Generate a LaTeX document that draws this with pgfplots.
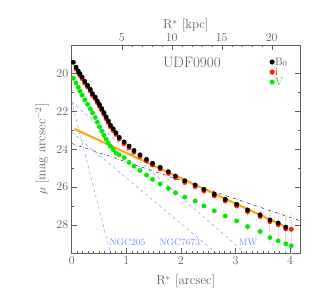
\documentclass[border=0pt]{standalone}
\usepackage{pgfplots}
\pgfplotsset{compat=1.18}
\definecolor{tcol}{RGB}{95,95,95}
\definecolor{porange}{RGB}{255,165,0}
\definecolor{pblue}{RGB}{110,140,240}
\definecolor{pgreen}{RGB}{0,235,0}
\definecolor{pred}{RGB}{255,30,0}
\pgfplotstableread{
x y
0.03 19.41
0.08 19.67
0.12 19.88
0.15 20.02
0.19 20.19
0.24 20.42
0.29 20.63
0.34 20.84
0.38 21.07
0.43 21.25
0.47 21.46
0.51 21.65
0.55 21.86
0.59 22.07
0.63 22.30
0.67 22.51
0.71 22.74
0.76 22.93
0.81 23.14
0.87 23.38
0.96 23.62
1.05 23.84
1.14 24.07
1.25 24.30
1.37 24.54
1.48 24.75
1.62 24.96
1.77 25.19
1.90 25.42
2.07 25.67
2.26 25.89
2.42 26.12
2.61 26.38
2.81 26.65
3.02 26.91
3.22 27.21
3.45 27.47
3.63 27.74
3.78 27.90
3.92 28.12
}\Bdata
\pgfplotstableread{
x y e
0.08 19.76 0
0.12 19.97 0
0.15 20.11 0
0.19 20.28 0
0.24 20.51 0
0.29 20.72 0
0.34 20.93 0
0.38 21.16 0
0.43 21.34 0
0.47 21.55 0
0.51 21.74 0
0.55 21.95 0
0.59 22.16 0
0.63 22.39 0
0.67 22.60 0
0.71 22.83 0
0.76 23.02 0
0.81 23.23 0
0.87 23.47 0
0.96 23.71 0
1.05 23.93 0
1.14 24.16 0
1.25 24.39 0
1.37 24.63 0
1.48 24.84 0
1.62 25.05 0
1.77 25.28 0
1.90 25.51 0
2.07 25.76 0
2.26 25.98 0
2.42 26.21 0
2.61 26.47 0.08
2.81 26.74 0.12
3.02 27.00 0.2
3.22 27.30 0.25
3.45 27.56 0.32
3.63 27.83 0.55
3.78 27.99 0.65
3.92 28.21 0.68
4.02 28.23 0.85
}\Idata
\pgfplotstableread{
x y e
0.03 20.25 0
0.08 20.50 0
0.12 20.73 0
0.15 20.93 0
0.19 21.15 0
0.24 21.40 0
0.29 21.63 0
0.34 21.87 0
0.38 22.08 0
0.43 22.33 0
0.47 22.58 0
0.51 22.82 0
0.55 23.05 0
0.59 23.27 0
0.63 23.47 0
0.67 23.67 0
0.71 23.85 0
0.76 24.03 0
0.81 24.20 0
0.87 24.30 0
0.96 24.45 0
1.05 24.70 0
1.14 24.90 0
1.25 25.12 0
1.37 25.37 0
1.48 25.60 0
1.62 25.84 0
1.77 26.07 0
1.90 26.30 0
2.07 26.53 0
2.26 26.74 0
2.42 27.00 0
2.61 27.26 0.05
2.81 27.53 0.08
3.02 27.79 0.12
3.22 28.09 0.18
3.45 28.35 0.22
3.63 28.67 0.35
3.78 28.84 0.44
3.92 29.00 0.45
4.02 29.10 0.5
}\Vdata
\begin{document}
\begin{tikzpicture}
\begin{axis}[name=main,
  scale only axis, width=228.3pt, height=208.3pt,
  xmin=0, xmax=4.18, ymin=18.5, ymax=29.5, y dir=reverse,
  xtick={0,1,2,3,4}, minor x tick num=9,
  ytick={20,22,24,26,28}, minor y tick num=1,
  xtick pos=left, ytick pos=both,
  tick align=inside,
  major tick length=5pt, minor tick length=2.5pt,
  axis line style={tcol}, every tick/.style={tcol},
  tick label style={font=\fontsize{13}{15}\selectfont, text=tcol},
  label style={font=\fontsize{13}{15}\selectfont, text=tcol},
  xlabel={R$^{*}$ [arcsec]},
  ylabel={$\mu$ [mag arcsec$^{-2}$]},
  xlabel style={at={(axis description cs:0.5,-0.136)}, anchor=center},
  ylabel style={at={(axis description cs:-0.13,0.5)}, anchor=center},
  legend style={draw=none, fill=none, at={(axis cs:3.62,19.15)}, anchor=north west,
    font=\fontsize{11}{11}\selectfont, row sep=1pt, inner sep=0pt,
    nodes={inner sep=0.5pt, text height=7pt, text depth=1pt},
    legend cell align=left},
  legend image code/.code={\fill (0cm,0cm) circle (2.3pt);},
  clip=false,
]
\addlegendimage{black, fill=black}
\addlegendentry{\textcolor{tcol}{B$_0$}}
\addlegendimage{pred, fill=pred}
\addlegendentry{\textcolor{pred}{i}}
\addlegendimage{pgreen, fill=pgreen}
\addlegendentry{\textcolor{pgreen}{V}}
% model lines
\addplot[pblue, dashed, thin, forget plot] coordinates {(0,21.5) (0.71,29.5)};
\addplot[pblue, dashed, thin, forget plot] coordinates {(0,23.1) (2.65,29.5)};
\addplot[pblue, dashed, thin, forget plot] coordinates {(0,21.5) (3.18,29.5)};
\addplot[black, dash dot, thin, forget plot] coordinates {(0,23.70) (4.18,27.78)};
% data
\addplot[only marks, mark=*, mark size=2.2pt, pgreen, forget plot,
  error bars/.cd, y dir=both, y explicit, error mark=none,
  error bar style={green!25, line width=1pt}]
  table[x=x, y=y, y error=e] {\Vdata};
\addplot[only marks, mark=*, mark size=2.2pt, pred, forget plot,
  error bars/.cd, y dir=both, y explicit, error mark=none,
  error bar style={red!18, line width=1pt}]
  table[x=x, y=y, y error=e] {\Idata};
\addplot[porange, line width=2pt, forget plot] coordinates {(0.05,22.93) (3.92,28.10)};
\addplot[only marks, mark=*, mark size=2.2pt, black, forget plot] table[x=x,y=y] {\Bdata};
\node[text=tcol, font=\fontsize{15}{15}\selectfont] at (axis cs:2.2,19.4) {UDF0900};
\node[text=pblue, font=\fontsize{9.5}{10}\selectfont] at (axis cs:1.02,28.93) {NGC205};
\node[text=pblue, font=\fontsize{9.5}{10}\selectfont] at (axis cs:1.98,28.93) {NGC7673};
\node[text=pblue, font=\fontsize{9.5}{10}\selectfont] at (axis cs:3.23,28.93) {MW};
\end{axis}
\begin{axis}[
  scale only axis, width=228.3pt, height=208.3pt,
  xmin=0, xmax=22.83, ymin=0, ymax=1,
  axis x line*=top, axis y line=none,
  xtick={5,10,15,20}, minor x tick num=4,
  tick align=inside,
  major tick length=5pt, minor tick length=2.5pt,
  axis line style={tcol}, every tick/.style={tcol},
  tick label style={font=\fontsize{13}{15}\selectfont, text=tcol},
  xlabel={R$^{*}$ [kpc]},
  xlabel style={font=\fontsize{13}{15}\selectfont, text=tcol, at={(axis description cs:0.5,1.095)}, anchor=center},
]
\end{axis}
\pgfresetboundingbox
\path (main.south west) ++(-71.7pt,-45.7pt) rectangle ++(323pt,299pt);
\end{tikzpicture}
\end{document}
